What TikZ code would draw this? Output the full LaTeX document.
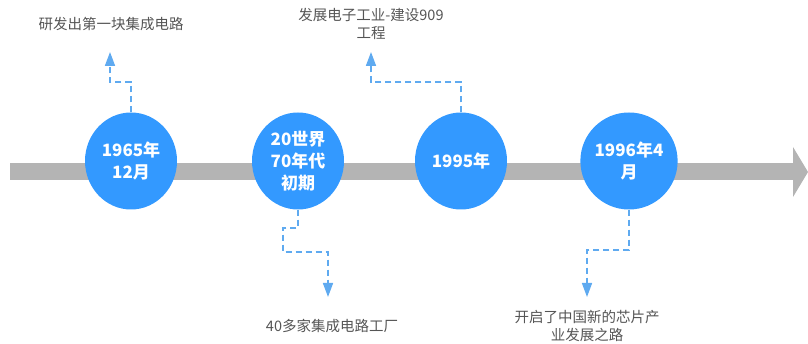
\documentclass[tikz,border=0pt]{standalone}
\usepackage{fontspec}
\newfontfamily\cjk{Noto Sans CJK SC}
\usetikzlibrary{arrows.meta,shapes.geometric}
\definecolor{barc}{RGB}{180,180,180}
\definecolor{circc}{RGB}{51,153,255}
\definecolor{linec}{RGB}{95,170,240}
\definecolor{txtc}{RGB}{85,85,85}
\begin{document}
\begin{tikzpicture}[x=1pt,y=-1pt,
  yr/.style={ellipse, fill=circc, minimum width=92pt, minimum height=97pt, inner sep=0pt,
    text=white, font=\cjk\bfseries\fontsize{17}{22}\selectfont, align=center},
  lbl/.style={text=txtc, font=\cjk\fontsize{14.5}{18}\selectfont, align=center, inner sep=0pt},
  conn/.style={linec, line width=1.6pt, dash pattern=on 6pt off 4pt,
    -{Triangle[width=10pt,length=14pt]}}]
\useasboundingbox (0,0) rectangle (808,344);
% timeline bar
\fill[barc] (10,163) rectangle (794,180);
\fill[barc] (793,147) -- (808,172) -- (793,197) -- cycle;
% year circles
\node[yr] (c1) at (131,161) {1965年\\12月};
\node[yr] (c2) at (298,161) {20世界\\70年代\\初期};
\node[yr] (c3) at (461,161) {1995年};
\node[yr] (c4) at (629,161) {1996年4\\月};
% labels
\node[lbl] (t1) at (111,24) {研发出第一块集成电路};
\node[lbl] (t2) at (332,326) {40多家集成电路工厂};
\node[lbl] (t3) at (371,24) {发展电子工业-建设909\\工程};
\node[lbl] (t4) at (587,326) {开启了中国新的芯片产\\业发展之路};
% arrow tips
\coordinate (p1) at (110,52);
\coordinate (p2) at (328,297);
\coordinate (p3) at (371,52);
\coordinate (p4) at (587,297);
% connectors
\draw[conn] (c1.north) |- (110,82) -- (p1);
\draw[conn] (c2.south) |- (283,228) |- (328,252) -- (p2);
\draw[conn] (c3.north) |- (371,82) -- (p3);
\draw[conn] (c4.south) |- (587,250) -- (p4);
\end{tikzpicture}
\end{document}
